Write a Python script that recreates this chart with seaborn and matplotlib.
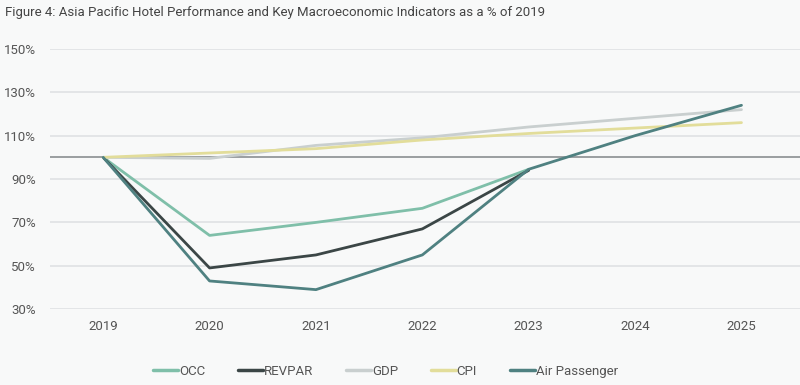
import numpy as np
import pandas as pd
import seaborn as sns
import matplotlib.pyplot as plt

years = ["2019", "2020", "2021", "2022", "2023", "2024", "2025"]
occ = [100, 64, 70, 76.5, 94.5]
revpar = [100, 49, 55, 67, 94]
gdp = [100, 99.5, 105.5, 109, 114, 118, 122]
cpi = [100, 102, 104, 108, 111, 113.5, 116]
air = [100, 43, 39, 55, 94.5, 110, 124]
yticks = [30, 50, 70, 90, 110, 130, 150]

series = {"OCC": occ, "REVPAR": revpar, "GDP": gdp, "CPI": cpi, "Air Passenger": air}
colors = {"OCC": "#7fbfa9", "REVPAR": "#3b4646", "GDP": "#c9cfcf",
          "CPI": "#e2dd9a", "Air Passenger": "#4f8181"}

rows = []
for name, vals in series.items():
    for i, v in enumerate(vals):
        rows.append({"x": i, "value": v, "series": name})
df = pd.DataFrame(rows)

sns.set_style("white")
plt.rcParams["font.family"] = ["Roboto", "DejaVu Sans"]

fig = plt.figure(figsize=(8, 3.85), dpi=100, facecolor="#f8f9f9")
ax = fig.add_axes([0.0625, 0.197, 0.9375, 0.676])
ax.set_facecolor("#f8f9f9")

for y in yticks:
    ax.axhline(y, color="#dfe2e4", lw=1.2, zorder=0)
ax.axhline(100, color="#8a8f91", lw=1.2, zorder=1)

sns.lineplot(data=df, x="x", y="value", hue="series", palette=colors,
             hue_order=list(series.keys()), lw=2, ax=ax, legend=False,
             sort=False, zorder=3)

ax.set_xlim(-0.5, 6.55)
ax.set_ylim(30, 150)
ax.set_xticks(range(len(years)))
ax.set_xticklabels(years)
ax.set_yticks(yticks)
ax.set_yticklabels([f"{v}%" for v in yticks])
ax.tick_params(length=0, labelsize=9.5, colors="#555555", pad=8)
ax.tick_params(axis="y", pad=10)
for s in ax.spines.values():
    s.set_visible(False)
ax.set_xlabel("")
ax.set_ylabel("")

fig.text(0.006, 0.968, "Figure 4: Asia Pacific Hotel Performance and Key Macroeconomic Indicators as a % of 2019",
         fontsize=9.5, color="#444444", va="center", ha="left")

handles = [plt.Line2D([0], [0], color=colors[n], lw=2.5) for n in series]
fig.legend(handles, list(series.keys()), loc="center", bbox_to_anchor=(0.482, 0.035),
           ncol=5, frameon=False, fontsize=9.5, handlelength=1.9, handletextpad=0.05,
           columnspacing=2.5, labelcolor="#555555")

fig.savefig("out.png", dpi=100, facecolor=fig.get_facecolor())
